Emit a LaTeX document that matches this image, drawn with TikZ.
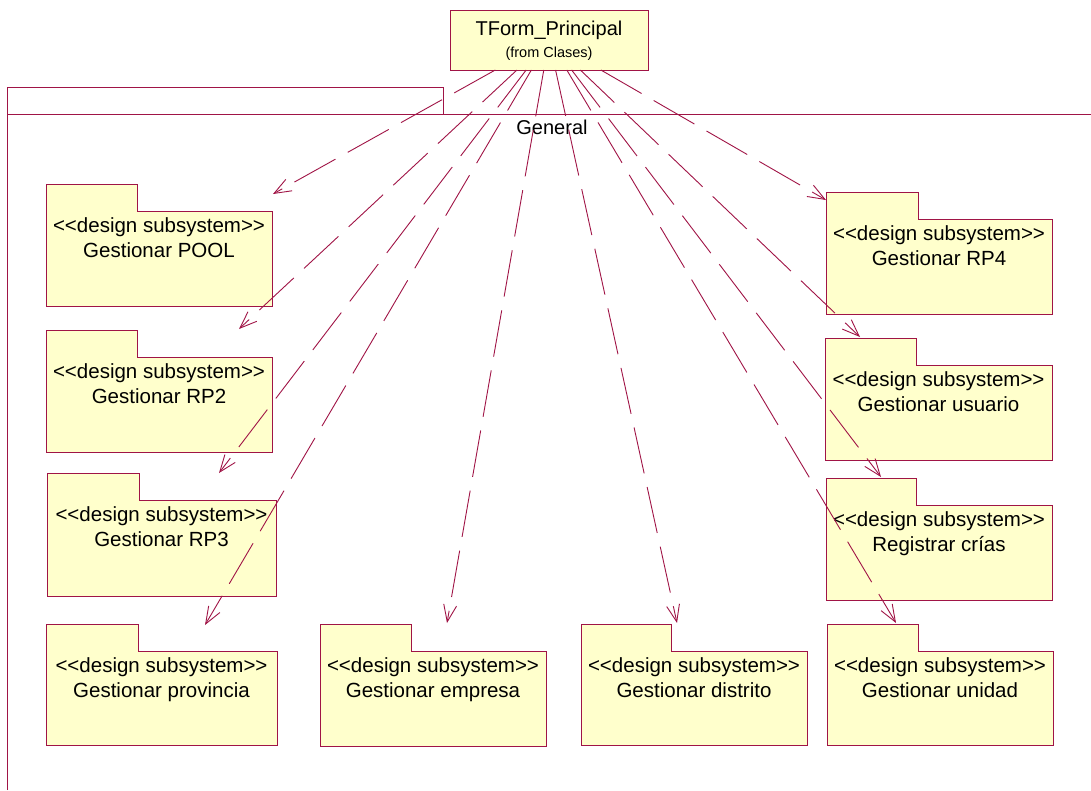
\documentclass[tikz,border=0pt]{standalone}
\usepackage{fontspec}
\newfontfamily\umlfont{Liberation Sans}
\usetikzlibrary{arrows.meta}
\definecolor{roseline}{RGB}{160,20,70}
\definecolor{rosefill}{RGB}{255,255,204}

\tikzset{
  pkgfill/.style={fill=rosefill, draw=none, inner sep=0pt, outer sep=0pt, anchor=north west},
  pkgline/.style={draw=roseline, line width=1pt, line join=miter},
  umltext/.style={font=\umlfont\fontsize{20.5}{24}\selectfont, inner sep=0pt, anchor=base},
  smalltext/.style={font=\umlfont\fontsize{14.5}{17}\selectfont, inner sep=0pt, anchor=base},
  dep/.style={draw=roseline, line width=0.9pt, dash pattern=on 47pt off 14pt,
    -{Straight Barb[length=17pt,width=13pt,line width=0.9pt]}},
}

% #1 node name, #2 left x, #3 tab top y, #4 body right x, #5 body bottom y,
% #6 tab width, #7 subsystem name
\newcommand\subsys[7]{%
  \node[pkgfill, minimum width=#6pt, minimum height=27pt] (#1-tab) at (#2,#3) {};
  \node[pkgfill, minimum width={(#4-#2)*1pt}, minimum height={(#5-#3-27)*1pt}]
    (#1) at (#2,{#3+27}) {};
  \draw[pkgline] (#1.south west) -- (#1-tab.north west) -- (#1-tab.north east)
    -- (#1-tab.south east) -- (#1.north east) -- (#1.south east) -- cycle;
  \node[umltext] (#1-st) at ([yshift=-21pt]#1.north) {<<design subsystem>>};
  \node[umltext] (#1-name) at ([yshift=-46pt]#1.north) {#7};
}

\begin{document}
\begin{tikzpicture}[x=1pt,y=-1pt]
  \useasboundingbox[fill=white] (0,0) rectangle (1091,790);

  % enclosing package "General", cut off at the right and bottom
  \draw[pkgline] (7,790) -- (7,87) -- (443,87) -- (443,114);
  \draw[pkgline] (7,114) -- (1091,114);
  \node[umltext, font=\umlfont\fontsize{20}{24}\selectfont] (general) at (552,134) {General};

  % client class
  \node[pkgfill, draw=roseline, line width=1pt, minimum width=198pt, minimum height=60pt]
    (tform) at (450,10) {};
  \node[umltext, font=\umlfont\fontsize{20}{24}\selectfont] (tform-name) at (549,35) {TForm\_Principal};
  \node[smalltext] (tform-from) at (549,57) {(from Clases)};

  % design subsystems
  \subsys{pool}{46}{184}{272}{306}{91}{Gestionar POOL}
  \subsys{rp2}{46}{330}{272}{452}{91}{Gestionar RP2}
  \subsys{rp3}{47}{473}{276}{596}{92}{Gestionar RP3}
  \subsys{prov}{46}{624}{277}{745}{92}{Gestionar provincia}
  \subsys{emp}{320}{624}{546}{746}{91}{Gestionar empresa}
  \subsys{dist}{581}{624}{807}{745}{90}{Gestionar distrito}
  \subsys{unid}{827}{624}{1053}{745}{91}{Gestionar unidad}
  \subsys{crias}{826}{478}{1052}{600}{90}{Registrar crías}
  \subsys{usu}{825}{338}{1052}{460}{91}{Gestionar usuario}
  \subsys{rp4}{826}{192}{1052}{314}{92}{Gestionar RP4}

  % arrow tips of the dependencies
  \coordinate (t-pool)  at (273,194);
  \coordinate (t-rp2)   at (239,329);
  \coordinate (t-rp3)   at (219,473);
  \coordinate (t-prov)  at (205,625);
  \coordinate (t-emp)   at (447,623);
  \coordinate (t-dist)  at (677,623);
  \coordinate (t-unid)  at (896,623);
  \coordinate (t-crias) at (881,477);
  \coordinate (t-usu)   at (860,337);
  \coordinate (t-rp4)   at (826,200);

  % dependencies
  \foreach \t in {pool,rp2,rp3,prov,emp,dist,unid,crias,usu,rp4}
    \draw[dep] (tform) -- (t-\t);
\end{tikzpicture}
\end{document}
